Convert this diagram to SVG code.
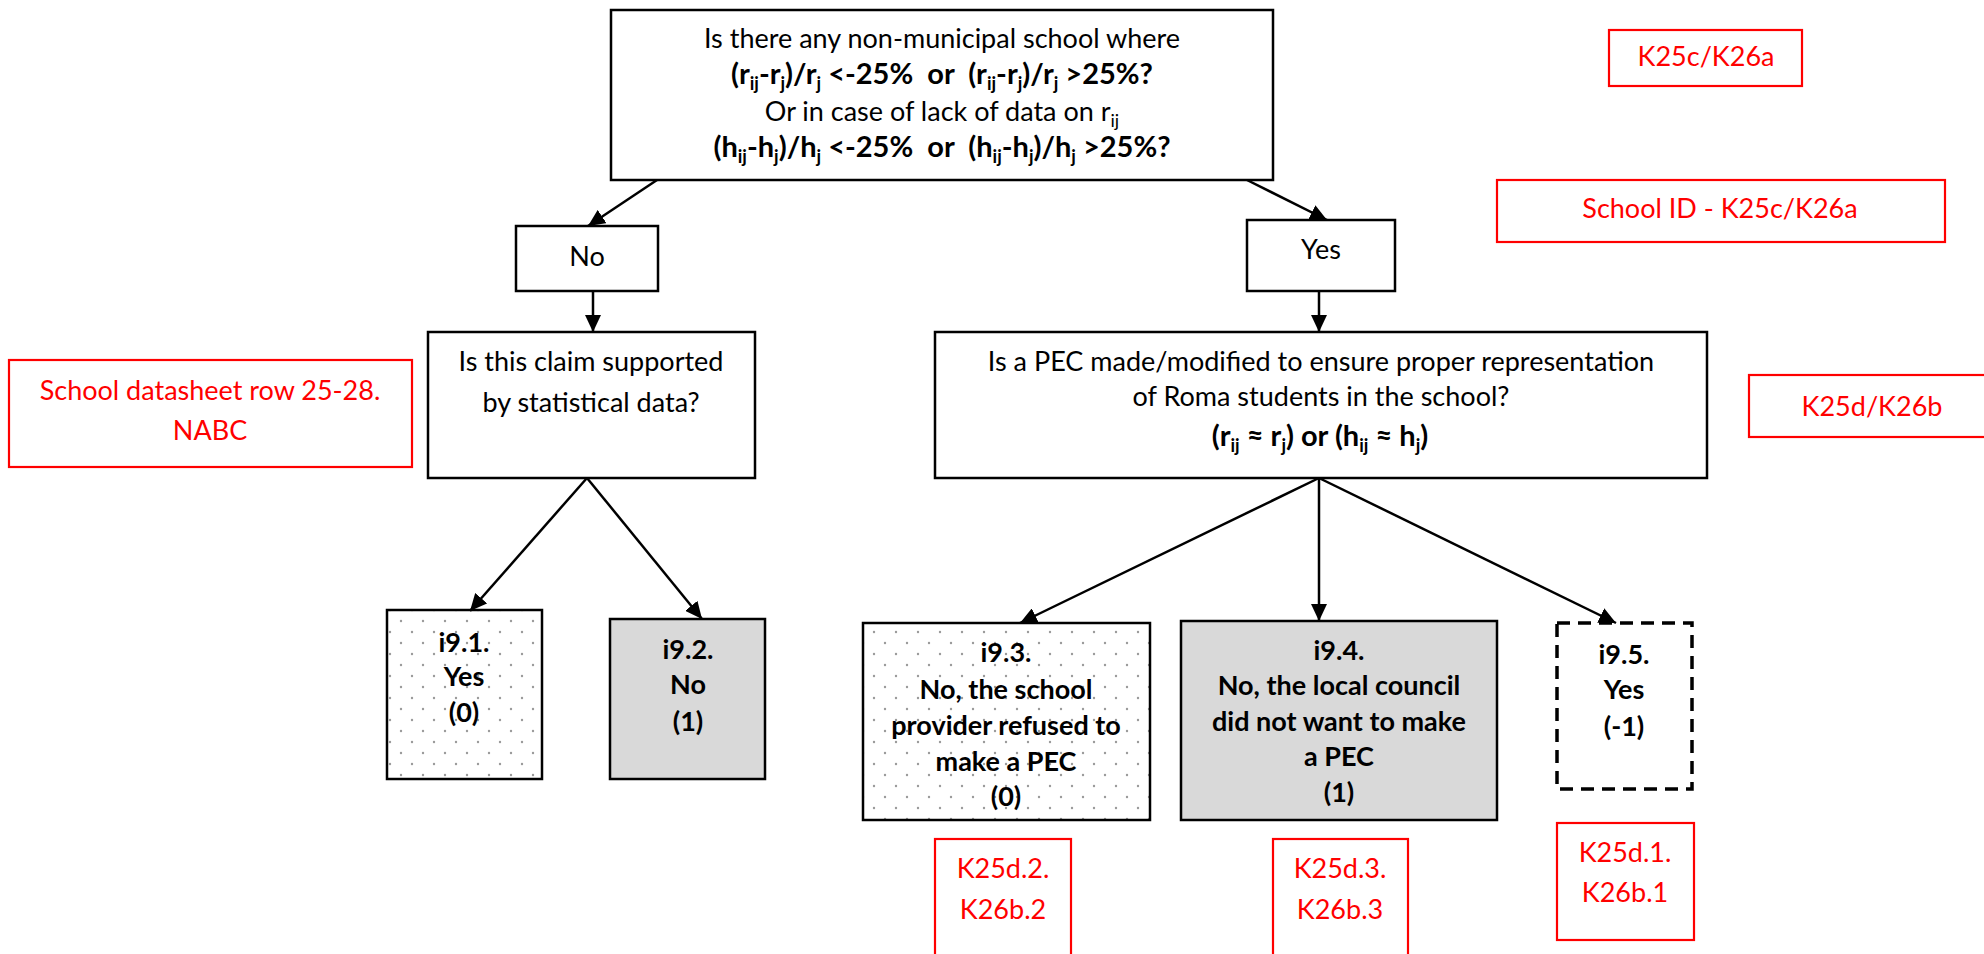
<svg xmlns="http://www.w3.org/2000/svg" width="1984" height="954" viewBox="0 0 1984 954">
<style>
text{font-family:Lato,"Liberation Sans",sans-serif;font-size:27px;fill:#000;text-anchor:middle}
.b{font-weight:bold}
text.big{font-size:29px}
text.red{fill:#ff0000}
.box{fill:#fff;stroke:#000;stroke-width:2.5}
.gray{fill:#d9d9d9;stroke:#000;stroke-width:2.5}
.dots{fill:url(#dots);stroke:#000;stroke-width:2.5}
.dash{fill:#fff;stroke:#000;stroke-width:3.5;stroke-dasharray:13 8}
.rbox{fill:#fff;stroke:#ff0000;stroke-width:2.2}
.sub{font-size:18px}
#connectors line{stroke:#000;stroke-width:2.5;marker-end:url(#arr)}
</style>
<defs>
<marker id="arr" markerUnits="userSpaceOnUse" markerWidth="18" markerHeight="16" refX="17" refY="8" orient="auto"><path d="M0,0 L17,8 L0,16 z" fill="#000"/></marker>
<pattern id="dots" patternUnits="userSpaceOnUse" width="22" height="22"><rect width="22" height="22" fill="#fff"/><circle cx="5" cy="5" r="1.2" fill="#9a9a9a"/><circle cx="16" cy="16" r="1.2" fill="#9a9a9a"/></pattern>
</defs>
<rect width="1984" height="954" fill="#fff"/>

<g id="q1">
<rect class="box" x="611" y="10" width="662" height="170"/>
<text x="942" y="48">Is there any non-municipal school where</text>
<text class="b big" x="942" y="84" xml:space="preserve">(r<tspan class="sub" dy="6">ij</tspan><tspan dy="-6">-r</tspan><tspan class="sub" dy="6">j</tspan><tspan dy="-6">)/r</tspan><tspan class="sub" dy="6">j</tspan><tspan dy="-6"> &lt;-25%  or  (r</tspan><tspan class="sub" dy="6">ij</tspan><tspan dy="-6">-r</tspan><tspan class="sub" dy="6">j</tspan><tspan dy="-6">)/r</tspan><tspan class="sub" dy="6">j</tspan><tspan dy="-6"> &gt;25%?</tspan></text>
<text x="942" y="121">Or in case of lack of data on r<tspan class="sub" dy="6">ij</tspan></text>
<text class="b big" x="942" y="157" xml:space="preserve">(h<tspan class="sub" dy="6">ij</tspan><tspan dy="-6">-h</tspan><tspan class="sub" dy="6">j</tspan><tspan dy="-6">)/h</tspan><tspan class="sub" dy="6">j</tspan><tspan dy="-6"> &lt;-25%  or  (h</tspan><tspan class="sub" dy="6">ij</tspan><tspan dy="-6">-h</tspan><tspan class="sub" dy="6">j</tspan><tspan dy="-6">)/h</tspan><tspan class="sub" dy="6">j</tspan><tspan dy="-6"> &gt;25%?</tspan></text>
</g>

<g id="ref-k25c">
<rect class="rbox" x="1609" y="30" width="193" height="56"/>
<text class="red" x="1706" y="66">K25c/K26a</text>
</g>

<g id="ref-schoolid">
<rect class="rbox" x="1497" y="180" width="448" height="62"/>
<text class="red" x="1720" y="218">School ID - K25c/K26a</text>
</g>

<g id="no">
<rect class="box" x="516" y="226" width="142" height="65"/>
<text x="587" y="266">No</text>
</g>

<g id="yes">
<rect class="box" x="1247" y="220" width="148" height="71"/>
<text x="1321" y="259">Yes</text>
</g>

<g id="q-claim">
<rect class="box" x="428" y="332" width="327" height="146"/>
<text x="591" y="371">Is this claim supported</text>
<text x="591" y="412">by statistical data?</text>
</g>

<g id="ref-datasheet">
<rect class="rbox" x="9" y="360" width="403" height="107"/>
<text class="red" x="210" y="400">School datasheet row 25-28.</text>
<text class="red" x="210" y="440">NABC</text>
</g>

<g id="q-pec">
<rect class="box" x="935" y="332" width="772" height="146"/>
<text x="1321" y="371">Is a PEC made/modified to ensure proper representation</text>
<text x="1321" y="406">of Roma students in the school?</text>
<text class="b big" x="1320" y="446" xml:space="preserve">(r<tspan class="sub" dy="6">ij</tspan><tspan dy="-6"> ≈ r</tspan><tspan class="sub" dy="6">j</tspan><tspan dy="-6">) or (h</tspan><tspan class="sub" dy="6">ij</tspan><tspan dy="-6"> ≈ h</tspan><tspan class="sub" dy="6">j</tspan><tspan dy="-6">)</tspan></text>
</g>

<g id="ref-k25d">
<rect class="rbox" x="1749" y="375" width="245" height="62"/>
<text class="red" x="1872" y="416">K25d/K26b</text>
</g>

<g id="i91">
<rect class="dots" x="387" y="610" width="155" height="169"/>
<text class="b" x="464" y="652">i9.1.</text>
<text class="b" x="464" y="686">Yes</text>
<text class="b" x="464" y="722">(0)</text>
</g>

<g id="i92">
<rect class="gray" x="610" y="619" width="155" height="160"/>
<text class="b" x="688" y="659">i9.2.</text>
<text class="b" x="688" y="694">No</text>
<text class="b" x="688" y="731">(1)</text>
</g>

<g id="i93">
<rect class="dots" x="863" y="623" width="287" height="197"/>
<text class="b" x="1006" y="662">i9.3.</text>
<text class="b" x="1006" y="699">No, the school</text>
<text class="b" x="1006" y="735">provider refused to</text>
<text class="b" x="1006" y="771">make a PEC</text>
<text class="b" x="1006" y="806">(0)</text>
</g>

<g id="i94">
<rect class="gray" x="1181" y="621" width="316" height="199"/>
<text class="b" x="1339" y="660">i9.4.</text>
<text class="b" x="1339" y="695">No, the local council</text>
<text class="b" x="1339" y="731">did not want to make</text>
<text class="b" x="1339" y="766">a PEC</text>
<text class="b" x="1339" y="802">(1)</text>
</g>

<g id="i95">
<rect class="dash" x="1557" y="623" width="135" height="166"/>
<text class="b" x="1624" y="664">i9.5.</text>
<text class="b" x="1624" y="699">Yes</text>
<text class="b" x="1624" y="736">(-1)</text>
</g>

<g id="ref-k25d2">
<rect class="rbox" x="935" y="839" width="136" height="130"/>
<text class="red" x="1003" y="878">K25d.2.</text>
<text class="red" x="1003" y="919">K26b.2</text>
</g>

<g id="ref-k25d3">
<rect class="rbox" x="1273" y="839" width="135" height="130"/>
<text class="red" x="1340" y="878">K25d.3.</text>
<text class="red" x="1340" y="919">K26b.3</text>
</g>

<g id="ref-k25d1">
<rect class="rbox" x="1557" y="823" width="137" height="117"/>
<text class="red" x="1625" y="862">K25d.1.</text>
<text class="red" x="1625" y="902">K26b.1</text>
</g>

<g id="connectors">
<line x1="657" y1="180" x2="588" y2="226"/>
<line x1="1247" y1="180" x2="1327" y2="220"/>
<line x1="593" y1="291" x2="593" y2="332"/>
<line x1="1319" y1="291" x2="1319" y2="332"/>
<line x1="587" y1="478" x2="470" y2="611"/>
<line x1="587" y1="478" x2="702" y2="619"/>
<line x1="1319" y1="478" x2="1020" y2="623"/>
<line x1="1319" y1="478" x2="1319" y2="621"/>
<line x1="1319" y1="478" x2="1616" y2="623"/>
</g>
</svg>
